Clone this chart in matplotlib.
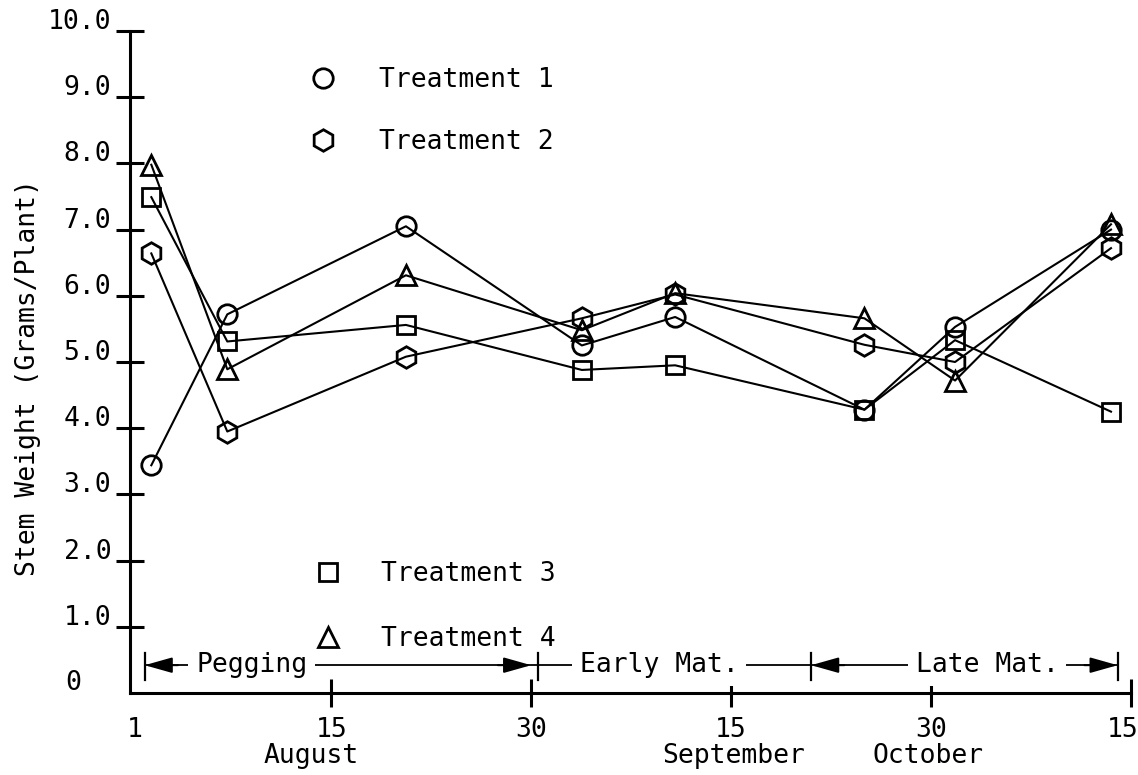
import matplotlib
matplotlib.use('Agg')
import matplotlib.pyplot as plt
from matplotlib.lines import Line2D
from matplotlib.transforms import ScaledTranslation, blended_transform_factory

plt.rcParams['font.family'] = ['DejaVu Sans Mono', 'DejaVu Sans']

# ---- data (x = days on the nominal half-month scale, 0 = August 1) ----
sample_day = [1.5, 7.2, 20.6, 33.8, 40.8, 55.0, 61.8, 73.5]
treatment1 = [3.44, 5.72, 7.05, 5.25, 5.68, 4.28, 5.53, 7.00]
treatment2 = [6.64, 3.95, 5.08, 5.66, 6.02, 5.26, 5.00, 6.72]
treatment3 = [7.49, 5.31, 5.56, 4.88, 4.95, 4.28, 5.33, 4.25]
treatment4 = [7.98, 4.89, 6.31, 5.48, 6.04, 5.66, 4.72, 7.08]
series_names = ['Treatment 1', 'Treatment 2', 'Treatment 3', 'Treatment 4']

x_ticks = [0, 15, 30, 45, 60, 75]
x_tick_labels = ['1', '15', '30', '15', '30', '15']
y_ticks = [0, 1, 2, 3, 4, 5, 6, 7, 8, 9, 10]
y_tick_labels = ['0', '1.0', '2.0', '3.0', '4.0', '5.0', '6.0', '7.0', '8.0', '9.0', '10.0']
month_names = ['August', 'September', 'October']
phase_names = ['Pegging', 'Early Mat.', 'Late Mat.']
phase_edges = [1.0, 30.5, 51.0, 74.0]

FS = 19
W, H = 1138, 775
fig = plt.figure(figsize=(W / 100, H / 100), dpi=100)
ax = fig.add_axes([130 / W, 82 / H, 1001 / W, 662 / H])
ax.set_xlim(-0.1, 75.0)
ax.set_ylim(0, 10)

for s in ('top', 'right'):
    ax.spines[s].set_visible(False)
for s in ('left', 'bottom'):
    ax.spines[s].set_linewidth(2.2)

styles = [
    dict(marker='o', ms=14),
    dict(marker='h', ms=15.5),
    dict(marker='s', ms=13.5),
    dict(marker='^', ms=14.5),
]
all_series = [treatment1, treatment2, treatment3, treatment4]
for vals, st in zip(all_series, styles):
    ax.plot(sample_day, vals, color='k', lw=1.5, mfc='none', mec='k', mew=2.0,
            zorder=3, clip_on=False, **st)

# ---- ticks ----
ax.set_xticks(x_ticks)
ax.set_xticklabels(x_tick_labels, fontsize=FS)
ax.set_yticks(y_ticks)
ax.set_yticklabels(y_tick_labels, fontsize=FS)
ax.tick_params(axis='both', direction='inout', length=20, width=2.2)
ax.tick_params(axis='y', pad=3.5)
ax.tick_params(axis='x', pad=7)
ax.yaxis.get_major_ticks()[0].tick1line.set_visible(False)
ax.xaxis.get_major_ticks()[0].tick1line.set_visible(False)

up = ScaledTranslation(0, 12 / 100, fig.dpi_scale_trans)
zero_shift = ScaledTranslation(-30 / 100, 13 / 100, fig.dpi_scale_trans)
for i, lab in enumerate(ax.get_yticklabels()):
    lab.set_transform(lab.get_transform() + (zero_shift if i == 0 else up))
xlabs = ax.get_xticklabels()
xlabs[0].set_transform(xlabs[0].get_transform() + ScaledTranslation(3 / 100, 0, fig.dpi_scale_trans))
xlabs[-1].set_transform(xlabs[-1].get_transform() + ScaledTranslation(-8 / 100, 0, fig.dpi_scale_trans))

ax.set_ylabel('Stem Weight (Grams/Plant)', fontsize=FS, va='center')
ax.yaxis.set_label_coords(-0.1017, 0.476)

# month names
btrans = blended_transform_factory(ax.transData, ax.transAxes)
month_x = [13.5, 45.2, 59.8]
for name, mx in zip(month_names, month_x):
    ax.text(mx, -0.1057, name, transform=btrans, ha='center', va='baseline',
            fontsize=FS, clip_on=False)

# ---- growth phase bar ----
y_line = 0.42
ax.plot([phase_edges[0], phase_edges[-1]], [y_line, y_line], color='k', lw=1.3, zorder=2)
for e in phase_edges:
    ax.plot([e, e], [0.2, 0.6], color='k', lw=1.6, zorder=2)
arrow_kw = dict(arrowstyle='-|>,head_length=0.85,head_width=0.24', mutation_scale=20,
                color='k', lw=1.4, shrinkA=0, shrinkB=0)
arrow_tips = [(phase_edges[0], 1), (phase_edges[1] - 0.5, -1), (phase_edges[2], 1), (phase_edges[3], -1)]
for tip, d in arrow_tips:
    ax.annotate('', xy=(tip, y_line), xytext=(tip + 2.5 * d, y_line), arrowprops=arrow_kw, zorder=2)
phase_label_x = [9.03, 39.6, 64.2]
for name, px in zip(phase_names, phase_label_x):
    ax.text(px, 0.317, name, ha='center', va='baseline', fontsize=FS, zorder=2.5,
            bbox=dict(boxstyle='square,pad=0.3', fc='white', ec='none'))

# ---- split legend ----
handles = [Line2D([], [], color='k', ls='none', mfc='none', mec='k', mew=2.0, **st) for st in styles]
leg1 = fig.legend(handles[:2], series_names[:2], loc='center left',
                  bbox_to_anchor=(310 / W, 1 - 111 / H), frameon=False, fontsize=FS,
                  handlelength=1.0, handletextpad=1.6, labelspacing=1.37,
                  borderpad=0, borderaxespad=0)
leg2 = fig.legend(handles[2:], series_names[2:], loc='center left',
                  bbox_to_anchor=(315 / W, 1 - 606.5 / H), frameon=False, fontsize=FS,
                  handlelength=1.0, handletextpad=1.5, labelspacing=1.48,
                  borderpad=0, borderaxespad=0)

fig.savefig('out.png', dpi=100, facecolor='white')
